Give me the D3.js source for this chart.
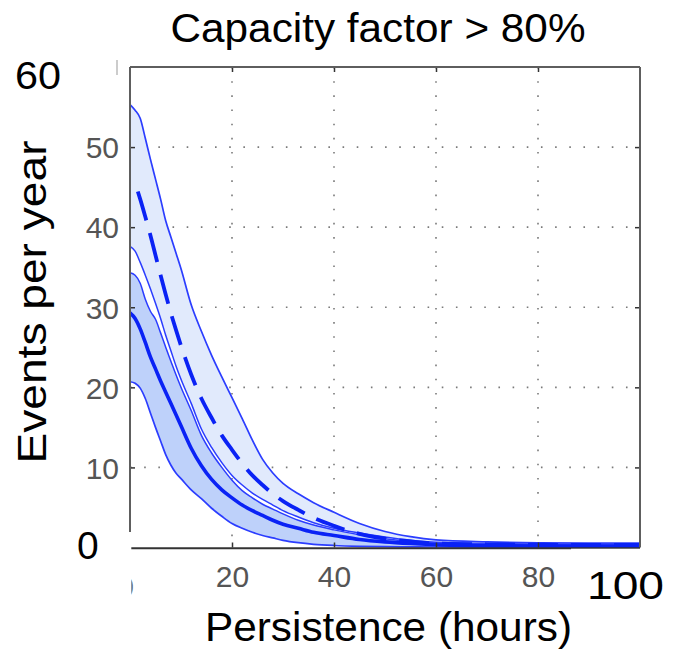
<!DOCTYPE html>
<html>
<head>
<meta charset="utf-8">
<script src="https://cdn.jsdelivr.net/npm/d3@7"></script>
<style>
  body { margin: 0; background: #fff; }
  svg { display: block; }
</style>
</head>
<body>
<svg id="chart" width="678" height="654"></svg>
<script>
// Persistence of high-output events (hours) and how often they happen per year
const hours = [0,1,2,3,4,5,6,7,8,9,10,12,14,16,18,20,22,24,26,28,30,33,36,40,45,50,55,60,70,80,90,100];

// envelope of the wide (light) band
const upperBound = [55.3,54.6,53.6,51.1,48.5,46.0,43.5,40.8,38.8,36.8,34.8,30.3,27.0,24.0,21.3,18.7,16.1,13.4,11.0,9.3,8.0,6.7,5.6,4.4,3.0,2.0,1.35,0.95,0.7,0.58,0.55,0.55];
// thin line closing the light band
const bandHigh = [37.6,37.0,35.6,34.0,32.3,30.5,28.6,26.5,24.6,22.7,21.0,18.0,14.8,12.5,10.6,9.0,7.8,6.8,6.0,5.3,4.6,3.8,3.1,2.4,1.8,1.3,0.9,0.65,0.48,0.42,0.4,0.4];
// thin line opening the darker band
const bandLow = [34.3,34.0,33.0,31.0,29.5,28.5,26.8,25.0,23.3,21.6,20.0,17.1,14.0,11.8,10.0,8.4,7.1,6.2,5.4,4.8,4.2,3.4,2.8,2.2,1.6,1.1,0.75,0.55,0.38,0.33,0.3,0.3];
// envelope of the darker band
const lowerBound = [20.7,20.5,19.9,18.6,16.8,15.0,13.3,11.6,10.3,9.3,8.6,7.2,6.1,4.9,3.9,3.0,2.4,1.9,1.5,1.2,0.9,0.6,0.4,0.25,0.15,0.1,0.08,0.06,0.05,0.05,0.05,0.05];
// central estimates
const dashedMean = [null,45.5,43.5,41.3,39.0,36.5,34.0,31.6,29.3,27.2,25.2,21.6,18.6,16.2,14.0,12.2,10.5,9.0,7.8,6.7,5.8,4.7,3.7,2.7,1.7,1.1,0.75,0.5,0.4,0.35,0.32,0.32];
const solidMedian = [29.3,28.6,27.3,25.6,23.8,22.3,20.8,19.4,18.0,16.6,15.2,12.4,10.2,8.5,7.2,6.2,5.3,4.6,4.0,3.4,2.9,2.4,1.9,1.5,1.0,0.7,0.5,0.35,0.22,0.18,0.16,0.16];

const xTicks = [20, 40, 60, 80];
const yTicks = [10, 20, 30, 40, 50];

const svg = d3.select("#chart");
const plotLeft = 130, plotRight = 640, plotTop = 67, plotBottom = 547.5;
const font = "Liberation Sans, Arial, sans-serif";

const x = d3.scaleLinear().domain([0, 100]).range([plotLeft, plotRight]);
const y = d3.scaleLinear().domain([0, 60]).range([plotBottom, plotTop]);

const rows = hours.map((h, i) => ({
  h, up: upperBound[i], hi: bandHigh[i], lo: bandLow[i], low: lowerBound[i],
  mean: dashedMean[i], med: solidMedian[i]
}));

// dotted grid
const grid = svg.append("g").attr("stroke", "#7a7a7a").attr("stroke-width", 1.6)
  .attr("stroke-dasharray", "1.6,12.57");
grid.selectAll("line.v").data(xTicks).join("line").attr("class", "v")
  .attr("x1", d => x(d)).attr("x2", d => x(d)).attr("y1", plotTop).attr("y2", plotBottom);
grid.selectAll("line.h").data(yTicks).join("line").attr("class", "h")
  .attr("y1", d => y(d)).attr("y2", d => y(d)).attr("x1", plotLeft).attr("x2", plotRight);

// shaded bands
const curve = d3.curveMonotoneX;
svg.append("path").datum(rows)
  .attr("fill", "#e1eafc")
  .attr("d", d3.area().curve(curve).x(d => x(d.h)).y0(d => y(d.hi)).y1(d => y(d.up)));
svg.append("path").datum(rows)
  .attr("fill", "#bed1fa")
  .attr("d", d3.area().curve(curve).x(d => x(d.h)).y0(d => y(d.low)).y1(d => y(d.lo)));

// lines
const lineOf = key => d3.line().curve(curve)
  .defined(d => d[key] != null).x(d => x(d.h)).y(d => y(d[key]));

const thin = [["up", 1.7], ["hi", 1.5], ["lo", 1.5], ["low", 1.7]];
thin.forEach(([k, w]) => {
  svg.append("path").datum(rows).attr("fill", "none")
    .attr("stroke", "#2b3dff").attr("stroke-width", w).attr("d", lineOf(k));
});
svg.append("path").datum(rows).attr("fill", "none")
  .attr("stroke", "#0a22f5").attr("stroke-width", 3.6)
  .attr("d", lineOf("med"));
svg.append("path").datum(rows).attr("fill", "none")
  .attr("stroke", "#0a22f5").attr("stroke-width", 3.8)
  .attr("stroke-dasharray", "30,13").attr("stroke-dashoffset", 34)
  .attr("d", lineOf("mean"));

// axes box with inward ticks
const axisColor = "#5e5e5e";
const styleAxis = g => {
  g.select(".domain").remove();
  g.selectAll(".tick line").attr("stroke", "#333").attr("stroke-width", 1.5);
};
svg.append("g").attr("transform", `translate(${plotLeft},0)`)
  .call(d3.axisLeft(y).tickValues(yTicks).tickSizeInner(-5).tickSizeOuter(0).tickPadding(11))
  .call(styleAxis)
  .call(g => g.selectAll(".tick text").attr("font-family", font)
    .attr("font-size", 30).attr("fill", "#555").attr("dy", "0.36em"));
svg.append("g").attr("transform", `translate(0,${plotBottom})`)
  .call(d3.axisBottom(x).tickValues(xTicks).tickSizeInner(-5).tickSizeOuter(0).tickPadding(29))
  .call(styleAxis)
  .call(g => g.selectAll(".tick text").attr("font-family", font)
    .attr("font-size", 30).attr("fill", "#555").attr("dy", "0.36em"));
svg.append("g").attr("transform", `translate(${plotRight},0)`)
  .call(d3.axisRight(y).tickValues(yTicks).tickSizeInner(-5).tickSizeOuter(0).tickFormat(""))
  .call(styleAxis);
svg.append("g").attr("transform", `translate(0,${plotTop})`)
  .call(d3.axisTop(x).tickValues(xTicks).tickSizeInner(-5).tickSizeOuter(0).tickFormat(""))
  .call(styleAxis);

const box = svg.append("g").attr("stroke", axisColor).attr("stroke-width", 2).attr("fill", "none");
box.append("line").attr("x1", plotLeft).attr("x2", plotRight).attr("y1", plotTop).attr("y2", plotTop);
box.append("line").attr("x1", plotRight).attr("x2", plotRight).attr("y1", plotTop).attr("y2", plotBottom);
box.append("line").attr("x1", plotLeft).attr("x2", plotLeft).attr("y1", plotTop).attr("y2", plotBottom);
box.append("line").attr("x1", plotLeft).attr("x2", plotRight).attr("y1", plotBottom + 0.8).attr("y2", plotBottom + 0.8)
  .attr("stroke", "#333");

// gray zero label on the x axis, mostly hidden under the corner patch
svg.append("text").attr("x", x(0) + 4).attr("y", 597).attr("text-anchor", "end")
  .attr("font-family", font).attr("font-size", 30).attr("fill", "#666")
  .text("0");

// white patches over the corners
svg.append("rect").attr("x", 60).attr("y", 532).attr("width", plotLeft + 1.3 - 60).attr("height", 70).attr("fill", "#fff");
svg.append("rect").attr("x", 571).attr("y", plotBottom + 1.2).attr("width", 80).attr("height", 20).attr("fill", "#fff");

// small stray tick above the frame
svg.append("line").attr("x1", 117).attr("x2", 117).attr("y1", 60).attr("y2", 75)
  .attr("stroke", "#aaa").attr("stroke-width", 1.2);

// large labels
const big = (t, xx, yy, size, anchor, len) => {
  const el = svg.append("text")
    .attr("x", xx).attr("y", yy).attr("text-anchor", anchor || "start")
    .attr("font-family", font).attr("font-size", size)
    .attr("fill", "#000").text(t);
  if (len) el.attr("textLength", len).attr("lengthAdjust", "spacingAndGlyphs");
  return el;
};

big("Capacity factor > 80%", 378, 42, 41, "middle", 415);
big("60", 15, 89, 39, "start", 46);
big("0", 77, 559, 39);
big("100", 587, 599, 39, "start", 77);
big("Persistence (hours)", 388.5, 641, 41, "middle", 367);
svg.append("text").attr("transform", "translate(46,302) rotate(-90)")
  .attr("text-anchor", "middle")
  .attr("font-family", font).attr("font-size", 41)
  .attr("textLength", 323).attr("lengthAdjust", "spacingAndGlyphs")
  .attr("fill", "#000").text("Events per year");
</script>
</body>
</html>
